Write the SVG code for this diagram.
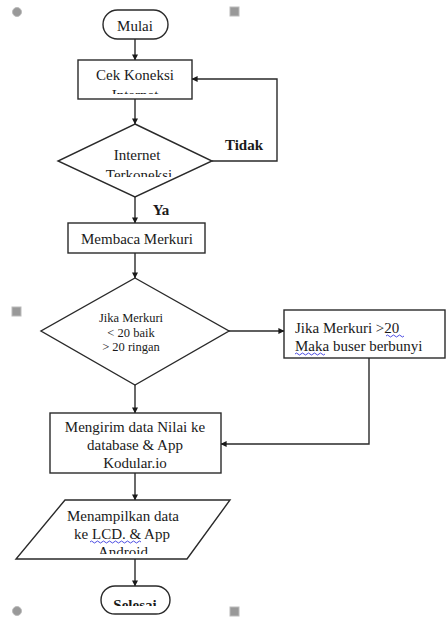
<svg xmlns="http://www.w3.org/2000/svg" width="446" height="618" viewBox="0 0 446 618">
<style>
.s{fill:#fff;stroke:#2a2a2a;stroke-width:1.4}
.c{fill:none;stroke:#2a2a2a;stroke-width:1.4}
.t{font-family:"Liberation Serif","DejaVu Serif",serif;font-size:15px;fill:#1a1a1a;text-anchor:middle}
.l{text-anchor:start}
.sm{font-size:12.5px}
.b{font-weight:bold}
.h{fill:#999;stroke:#bbb;stroke-width:1}
.w{fill:none;stroke:#3a3adf;stroke-width:0.9}
</style>
<defs>
<marker id="a" viewBox="0 0 8 8" refX="7.5" refY="4" markerWidth="6" markerHeight="6" orient="auto" markerUnits="userSpaceOnUse">
<path d="M0,0 L8,4 L0,8 z" fill="#1a1a1a"/>
</marker>
<clipPath id="k1"><rect x="78" y="60" width="114" height="34"/></clipPath>
<clipPath id="k2"><rect x="58" y="124" width="154" height="53"/></clipPath>
<clipPath id="k3"><rect x="16" y="500" width="214" height="54"/></clipPath>
<clipPath id="k4"><rect x="101" y="586" width="69" height="20"/></clipPath>
</defs>
<rect width="446" height="618" fill="#fff"/>
<g id="handles">
<circle class="h" cx="17" cy="12" r="4.5"/>
<rect class="h" x="230" y="7" width="9" height="9"/>
<rect class="h" x="12" y="307" width="9" height="9"/>
<circle class="h" cx="17" cy="611" r="4.5"/>
<rect class="h" x="230" y="607" width="9" height="9"/>
</g>
<g id="connectors">
<path class="c" d="M135,39 V60" marker-end="url(#a)"/>
<path class="c" d="M135,99 V124" marker-end="url(#a)"/>
<path class="c" d="M212,161 H277 V79 H192" marker-end="url(#a)"/>
<path class="c" d="M135,197 V223" marker-end="url(#a)"/>
<path class="c" d="M135,253 V278" marker-end="url(#a)"/>
<path class="c" d="M229,331 H284" marker-end="url(#a)"/>
<path class="c" d="M135,385 V413" marker-end="url(#a)"/>
<path class="c" d="M369,358 V444 H221" marker-end="url(#a)"/>
<path class="c" d="M135,473 V500" marker-end="url(#a)"/>
<path class="c" d="M135,559 V586" marker-end="url(#a)"/>
<text class="t b" x="244" y="150" font-size="14">Tidak</text>
<text class="t b" x="161" y="215" font-size="14">Ya</text>
</g>
<g id="mulai">
<rect class="s" x="103" y="10" width="65" height="29" rx="14.5"/>
<text class="t" x="135" y="31">Mulai</text>
</g>
<g id="cek">
<rect class="s" x="78" y="60" width="114" height="39"/>
<text class="t" x="135" y="80">Cek Koneksi</text>
<text class="t" x="135" y="100" clip-path="url(#k1)">Internet</text>
</g>
<g id="internet">
<polygon class="s" points="135,124 212,161 135,197 58,161"/>
<text class="t" x="137" y="160">Internet</text>
<text class="t" x="139" y="180" clip-path="url(#k2)">Terkoneksi</text>
</g>
<g id="membaca">
<rect class="s" x="68" y="223" width="137" height="30"/>
<text class="t" x="137" y="244">Membaca Merkuri</text>
</g>
<g id="jika">
<polygon class="s" points="135,278 229,331 135,385 41,331"/>
<text class="t sm" x="131" y="322">Jika Merkuri</text>
<text class="t sm" x="131" y="337">&lt; 20 baik</text>
<text class="t sm" x="131" y="351">&gt; 20 ringan</text>
</g>
<g id="buser">
<rect class="s" x="284" y="310" width="161" height="48"/>
<text class="t l" x="295" y="333">Jika Merkuri &gt;20</text>
<text class="t l" x="295" y="351">Maka buser berbunyi</text>
<path class="w" d="M386,336 q1.5,-2 3,0 t3,0 t3,0 t3,0 t3,0 t3,0"/>
<path class="w" d="M295,354 q1.5,-2 3,0 t3,0 t3,0 t3,0 t3,0 t3,0 t3,0 t3,0 t3,0 t3,0"/>
</g>
<g id="mengirim">
<rect class="s" x="50" y="413" width="171" height="60"/>
<text class="t" x="135" y="432">Mengirim data Nilai ke</text>
<text class="t" x="135" y="450">database &amp; App</text>
<text class="t" x="135" y="468">Kodular.io</text>
</g>
<g id="menampilkan">
<polygon class="s" points="65,500 230,500 187,559 16,559"/>
<text class="t" x="123" y="521">Menampilkan data</text>
<text class="t" x="122" y="539">ke LCD. &amp; App</text>
<path class="w" d="M90,542 q1.5,-2 3,0 t3,0 t3,0 t3,0 t3,0 t3,0 t3,0 t3,0 t3,0 t3,0 t3,0 t3,0 t3,0 t3,0 t3,0 t3,0 t3,0"/>
<text class="t" x="123" y="557" clip-path="url(#k3)">Android</text>
</g>
<g id="selesai">
<rect class="s" x="101" y="586" width="69" height="28" rx="14"/>
<text class="t b" x="135" y="610" font-size="14" clip-path="url(#k4)">Selesai</text>
</g>
</svg>
